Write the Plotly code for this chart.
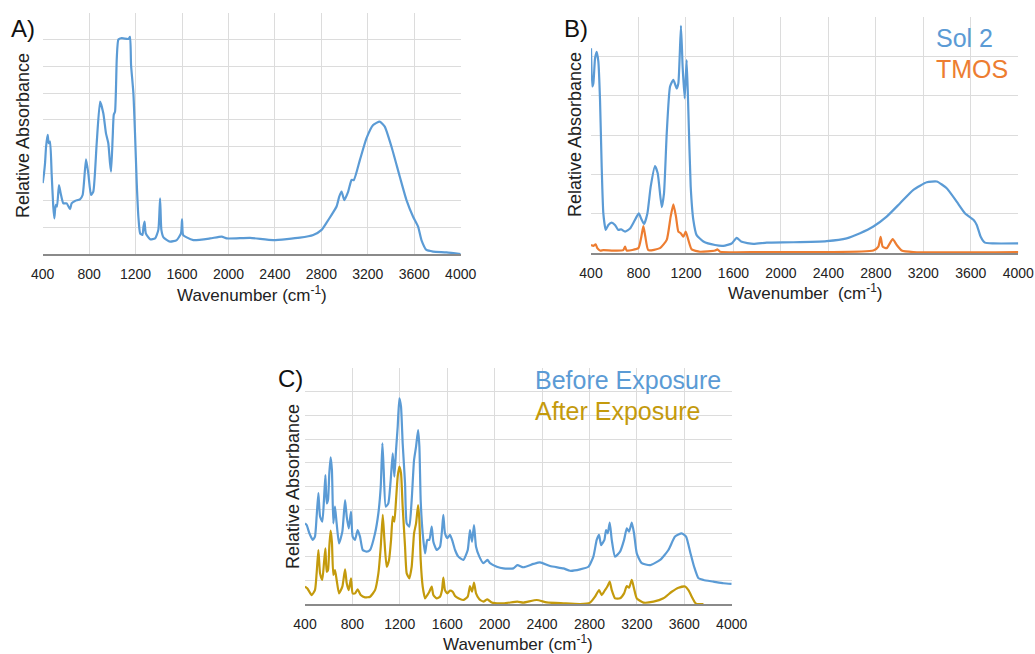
import plotly.graph_objects as go

W, H = 1035, 654

# ---------------- Panel A ----------------
a_wn = [400, 411, 420, 429, 443, 452, 463, 477, 491, 500, 512, 523, 540, 555, 578, 607, 635, 649, 678, 721,
        744, 773, 793, 816, 836, 865, 894, 922, 945, 965, 980, 989, 1003, 1012, 1023, 1038, 1052, 1081, 1138,
        1152, 1161, 1181, 1195, 1210, 1224, 1239, 1259, 1268, 1277, 1288, 1325, 1368, 1396, 1411, 1422, 1440,
        1497, 1554, 1591, 1600, 1609, 1640, 1698, 1841, 1942, 1985, 2186, 2386, 2615, 2730, 2802, 2845, 2888,
        2931, 2954, 2974, 2997, 3031, 3060, 3080, 3132, 3189, 3246, 3303, 3346, 3404, 3475, 3533, 3590, 3633,
        3662, 3705, 3763, 3878, 4000]
a_abs = [2.64, 3.0, 3.38, 4.0, 4.44, 4.13, 4.19, 3.0, 1.77, 1.33, 1.83, 1.77, 2.57, 2.26, 1.89, 1.89, 1.67, 1.89,
         1.98, 2.04, 2.2, 3.53, 3.0, 2.2, 2.33, 4.13, 5.68, 5.25, 4.5, 4.13, 3.38, 3.07, 4.38, 5.19, 5.31, 7.3,
         8.0, 8.05, 8.02, 8.1, 7.05, 6.0, 4.5, 2.64, 1.39, 0.77, 0.71, 1.02, 1.21, 0.77, 0.55, 0.58, 0.9, 2.08,
         0.9, 0.62, 0.46, 0.52, 0.77, 1.29, 0.71, 0.62, 0.52, 0.58, 0.65, 0.58, 0.6, 0.52, 0.61, 0.71, 0.9, 1.17,
         1.46, 1.77, 2.14, 2.33, 2.01, 2.33, 2.76, 2.76, 3.51, 4.32, 4.81, 4.94, 4.75, 4.0, 2.89, 2.01, 1.39,
         1.02, 0.52, 0.15, 0.09, 0.06, 0.0]

# ---------------- Panel B ----------------
b_sol_wn = [400, 411, 420, 434, 448, 462, 476, 490, 504, 524, 546, 574, 602, 630, 653, 687, 729, 762, 802, 827,
            847, 875, 903, 939, 962, 996, 1015, 1038, 1066, 1094, 1122, 1136, 1158, 1172, 1189, 1206, 1220, 1240,
            1262, 1290, 1347, 1445, 1515, 1585, 1627, 1670, 1768, 1880, 2105, 2386, 2554, 2667, 2779, 2891, 3004,
            3116, 3229, 3313, 3397, 3481, 3552, 3622, 3650, 3683, 3719, 3790, 4000]
b_sol_abs = [5.2, 4.23, 4.31, 4.94, 5.11, 4.86, 3.89, 2.2, 1.01, 0.59, 0.72, 0.78, 0.72, 0.59, 0.61, 0.55, 0.63,
             0.8, 1.01, 0.85, 0.74, 1.01, 1.69, 2.21, 2.03, 1.17, 1.52, 3.04, 4.23, 4.4, 4.18, 4.31, 5.77, 4.73,
             3.93, 4.9, 3.63, 1.69, 0.85, 0.46, 0.30, 0.21, 0.19, 0.25, 0.39, 0.29, 0.24, 0.27, 0.28, 0.31, 0.38,
             0.51, 0.68, 0.93, 1.27, 1.61, 1.8, 1.82, 1.65, 1.31, 1.01, 0.85, 0.72, 0.42, 0.27, 0.25, 0.25]
b_tmos_wn = [400, 420, 439, 453, 476, 504, 588, 672, 687, 700, 799, 824, 841, 858, 883, 981, 1038, 1071, 1094,
             1116, 1136, 1156, 1178, 1198, 1220, 1248, 1318, 1445, 1465, 1487, 1824, 2386, 2779, 2821, 2840,
             2857, 2891, 2942, 2976, 3018, 3116, 4000]
b_tmos_abs = [0.21, 0.19, 0.23, 0.13, 0.07, 0.08, 0.07, 0.08, 0.17, 0.07, 0.13, 0.42, 0.69, 0.42, 0.08, 0.13,
              0.34, 0.93, 1.24, 0.93, 0.55, 0.51, 0.42, 0.55, 0.34, 0.1, 0.04, 0.07, 0.10, 0.04, 0.03, 0.03,
              0.07, 0.17, 0.42, 0.17, 0.13, 0.36, 0.21, 0.07, 0.03, 0.03]

# ---------------- Panel C ----------------
c_wn = [400, 414, 437, 465, 484, 498, 513, 527, 546, 560, 572, 583, 594, 605, 616, 627, 639, 653, 667, 687,
        715, 738, 752, 769, 788, 802, 822, 844, 864, 887, 920, 949, 991, 1019, 1039, 1053, 1064, 1081, 1103,
        1123, 1140, 1154, 1168, 1182, 1196, 1210, 1224, 1244, 1258, 1280, 1300, 1320, 1337, 1354, 1365, 1376,
        1393, 1413, 1432, 1449, 1469, 1483, 1511, 1539, 1556, 1567, 1581, 1601, 1623, 1646, 1666, 1694, 1736,
        1773, 1792, 1809, 1826, 1843, 1871, 1905, 1939, 1961, 2018, 2074, 2158, 2192, 2242, 2327, 2383, 2467,
        2580, 2636, 2721, 2791, 2833, 2861, 2881, 2898, 2926, 2940, 2954, 2971, 2988, 3016, 3058, 3092, 3115,
        3134, 3157, 3176, 3199, 3241, 3311, 3396, 3466, 3522, 3578, 3615, 3649, 3683, 3720, 3762, 3846, 3930,
        4000]
c_before = [3.42, 3.35, 3.0, 2.72, 2.86, 3.71, 4.7, 3.71, 3.49, 4.41, 5.47, 4.27, 4.41, 5.54, 6.22, 5.69, 3.42,
            4.13, 3.42, 2.57, 3.07, 4.41, 3.71, 3.21, 3.92, 2.86, 2.72, 3.14, 2.86, 2.29, 2.22, 2.29, 3.0, 3.85,
            4.98, 6.82, 5.69, 4.13, 4.27, 5.26, 6.39, 5.4, 6.53, 7.52, 8.73, 8.37, 6.82, 5.12, 3.42, 3.28, 4.41,
            6.11, 6.68, 7.38, 6.68, 4.41, 3.0, 2.15, 2.72, 2.72, 3.28, 2.64, 2.29, 2.43, 3.14, 3.78, 3.0, 2.79,
            2.93, 2.64, 2.29, 2.01, 1.87, 2.29, 3.14, 2.64, 3.35, 2.43, 2.01, 1.73, 1.87, 1.73, 1.58, 1.51, 1.51,
            1.65, 1.56, 1.7, 1.77, 1.61, 1.51, 1.41, 1.47, 1.58, 2.01, 2.72, 2.93, 2.5, 2.72, 3.14, 3.0, 3.45,
            2.72, 2.01, 2.22, 2.72, 3.21, 3.07, 3.45, 3.0, 2.15, 1.73, 1.65, 1.87, 2.29, 2.86, 3.0, 2.86, 2.22,
            1.58, 1.09, 1.02, 0.95, 0.88, 0.85]
c_after_wn = [400, 420, 456, 484, 498, 513, 527, 546, 560, 572, 583, 594, 605, 616, 627, 639, 653, 667, 687,
              715, 738, 752, 769, 788, 802, 822, 844, 870, 906, 949, 991, 1019, 1039, 1056, 1070, 1089, 1109,
              1126, 1140, 1154, 1168, 1182, 1196, 1210, 1224, 1244, 1258, 1280, 1300, 1320, 1337, 1354, 1365,
              1376, 1393, 1413, 1432, 1449, 1469, 1483, 1511, 1539, 1556, 1567, 1581, 1601, 1623, 1646, 1666,
              1694, 1736, 1773, 1792, 1809, 1826, 1843, 1871, 1905, 1939, 1975, 2074, 2192, 2242, 2355, 2439,
              2580, 2721, 2805, 2847, 2881, 2903, 2931, 2951, 2971, 2988, 3016, 3058, 3092, 3115, 3134, 3157,
              3176, 3199, 3256, 3340, 3424, 3494, 3551, 3607, 3635, 3663, 3691, 3705, 3762]
c_after = [0.74, 0.66, 0.38, 0.59, 1.3, 2.29, 1.3, 1.02, 1.73, 2.36, 1.37, 1.44, 2.43, 3.11, 2.64, 1.23, 1.44,
           1.02, 0.45, 0.74, 1.47, 0.88, 0.59, 1.09, 0.45, 0.45, 0.62, 0.38, 0.28, 0.31, 0.59, 1.3, 2.43, 3.78,
           2.72, 1.58, 1.87, 2.72, 3.71, 3.49, 4.41, 5.4, 5.83, 5.54, 4.13, 2.43, 1.3, 1.09, 1.58, 3.0, 3.42,
           4.2, 3.56, 1.87, 0.74, 0.24, 0.38, 0.52, 0.74, 0.38, 0.24, 0.31, 0.59, 1.12, 0.59, 0.45, 0.57, 0.52,
           0.34, 0.24, 0.17, 0.31, 0.76, 0.52, 0.91, 0.45, 0.2, 0.1, 0.2, 0.06, 0.03, 0.1, 0.06, 0.17, 0.07,
           0.03, 0.0, 0.06, 0.31, 0.59, 0.38, 0.59, 0.74, 0.95, 0.59, 0.24, 0.24, 0.45, 0.76, 0.69, 1.02, 0.66,
           0.24, 0.06, 0.1, 0.24, 0.52, 0.69, 0.74, 0.59, 0.31, 0.06, 0.0, 0.0]

x_ticks = [400, 800, 1200, 1600, 2000, 2400, 2800, 3200, 3600, 4000]

BLUE = "#5B9BD5"
ORANGE = "#ED7D31"
GOLD = "#C49A0C"
FONT = "Liberation Sans, Arial, sans-serif"
TXT = "#222222"

# panel pixel boxes: (left, right, top, bottom)
boxes = {
    "A": (42.7, 460.7, 12.7, 254.0),
    "B": (591.0, 1018.3, 16.7, 253.3),
    "C": (305.0, 731.7, 368.3, 604.0),
}
ymax = {"A": 9, "B": 6, "C": 10}

fig = go.Figure()
line_kw = dict(width=2.2, shape="spline", smoothing=0.5)
fig.add_trace(go.Scatter(x=a_wn, y=a_abs, mode="lines", line=dict(color=BLUE, **line_kw),
                         xaxis="x", yaxis="y", showlegend=False))
fig.add_trace(go.Scatter(x=b_sol_wn, y=b_sol_abs, mode="lines", line=dict(color=BLUE, **line_kw),
                         xaxis="x2", yaxis="y2", showlegend=False))
fig.add_trace(go.Scatter(x=b_tmos_wn, y=b_tmos_abs, mode="lines", line=dict(color=ORANGE, **line_kw),
                         xaxis="x2", yaxis="y2", showlegend=False))
fig.add_trace(go.Scatter(x=c_wn, y=c_before, mode="lines", line=dict(color=BLUE, **line_kw),
                         xaxis="x3", yaxis="y3", showlegend=False))
fig.add_trace(go.Scatter(x=c_after_wn, y=c_after, mode="lines", line=dict(color=GOLD, **line_kw),
                         xaxis="x3", yaxis="y3", showlegend=False))

layout = dict(width=W, height=H, margin=dict(l=0, r=0, t=0, b=0, autoexpand=False),
              paper_bgcolor="white", plot_bgcolor="white",
              font=dict(family=FONT, color=TXT))

for i, k in enumerate(["A", "B", "C"]):
    l, r, t, b = boxes[k]
    sfx = "" if i == 0 else str(i + 1)
    layout["xaxis" + sfx] = dict(
        domain=[l / W, r / W], anchor="y" + sfx, range=[400, 4000], tickvals=x_ticks,
        showgrid=True, gridcolor="#dcdcdc", gridwidth=1, zeroline=False,
        showline=True, linecolor="#8a8a8a", linewidth=1.5, ticks="",
        tickfont=dict(size=14, color=TXT), ticklabelstandoff=6, automargin=False)
    layout["yaxis" + sfx] = dict(
        domain=[1 - b / H, 1 - t / H], anchor="x" + sfx, range=[0, ymax[k]], dtick=1,
        showgrid=True, gridcolor="#dcdcdc", gridwidth=1, zeroline=False,
        showticklabels=False, ticks="", showline=False, automargin=False)

def P(px, py):
    return px / W, 1 - py / H

annotations = []
# panel letters
for k, (px, py) in {"A": (9, 28), "B": (562, 28), "C": (276, 378)}.items():
    x, y = P(px, py)
    annotations.append(dict(text=k + ")", x=x, y=y, xref="paper", yref="paper", showarrow=False,
                            font=dict(size=24, color="#111"), xanchor="left", yanchor="middle"))
# y-axis titles
for px, py in [(23, 136), (575, 135), (293, 487)]:
    x, y = P(px, py)
    annotations.append(dict(text="Relative Absorbance", x=x, y=y, xref="paper", yref="paper",
                            showarrow=False, textangle=-90, font=dict(size=18, color=TXT),
                            xanchor="center", yanchor="middle"))
# x-axis titles
for txt, px, py in [("Wavenumber (cm<sup>-1</sup>)", 252, 294),
                    ("Wavenumber  (cm<sup>-1</sup>)", 805, 292),
                    ("Wavenumber (cm<sup>-1</sup>)", 518, 643)]:
    x, y = P(px, py)
    annotations.append(dict(text=txt, x=x, y=y, xref="paper", yref="paper", showarrow=False,
                            font=dict(size=17, color=TXT), xanchor="center", yanchor="middle"))
# in-plot legends
for txt, col, px, py in [("Sol 2", BLUE, 934, 38), ("TMOS", ORANGE, 934, 69),
                         ("Before Exposure", BLUE, 533, 380), ("After Exposure", GOLD, 533, 411)]:
    x, y = P(px, py)
    annotations.append(dict(text=txt, x=x, y=y, xref="paper", yref="paper", showarrow=False,
                            font=dict(size=25, color=col), xanchor="left", yanchor="middle"))
layout["annotations"] = annotations

fig.update_layout(**layout)
fig.write_html("out.html")
